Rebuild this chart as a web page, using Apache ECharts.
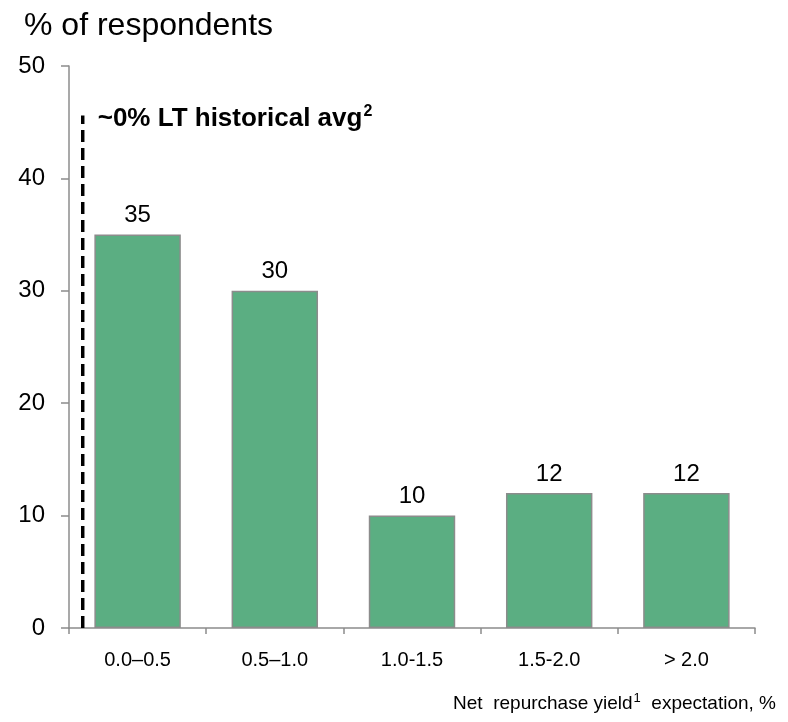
<!DOCTYPE html>
<html>
<head>
<meta charset="utf-8">
<script src="https://cdn.jsdelivr.net/npm/echarts@6/dist/echarts.min.js"></script>
<style>
  html, body { margin: 0; padding: 0; background: #fff; }
  #chart { width: 788px; height: 722px; }
</style>
</head>
<body>
<div id="chart"></div>
<script>
// Share of respondents by expected net repurchase yield bucket
const categories = ['0.0\u20130.5', '0.5\u20131.0', '1.0-1.5', '1.5-2.0', '> 2.0'];
const respondents = [35, 30, 10, 12, 12];
const yTicks = { min: 0, max: 50, interval: 10 };

// Long-term historical average reference line (~0%), drawn on a hidden value axis
const refLineX = [0.1, 0.1];
const refLineY = [0, 45.6];

const FONT = 'Liberation Sans, Arial, sans-serif';
const AXIS_GREY = '#8c8c8c';

const chart = echarts.init(document.getElementById('chart'), null, { renderer: 'canvas' });

chart.setOption({
  animation: false,
  textStyle: { fontFamily: FONT, color: '#000' },
  title: {
    text: '% of respondents',
    left: 19, top: 5,
    textStyle: { fontFamily: FONT, fontSize: 32, fontWeight: 'normal', color: '#000' }
  },
  grid: { left: 69, right: 33, top: 66, bottom: 94 },
  xAxis: [
    {
      type: 'category',
      data: categories,
      boundaryGap: true,
      axisLine: { lineStyle: { color: AXIS_GREY, width: 1.5 } },
      axisTick: { show: true, length: 6, alignWithLabel: false, lineStyle: { color: AXIS_GREY, width: 1.5 } },
      axisLabel: { fontSize: 20, color: '#000', margin: 22, fontFamily: FONT }
    },
    {
      type: 'value', min: 0, max: 5, show: false
    }
  ],
  yAxis: {
    type: 'value',
    min: yTicks.min, max: yTicks.max, interval: yTicks.interval,
    axisLine: { show: true, lineStyle: { color: AXIS_GREY, width: 1.5 } },
    axisTick: { show: true, length: 8, lineStyle: { color: AXIS_GREY, width: 1.5 } },
    axisLabel: { fontSize: 24, color: '#000', margin: 24, fontFamily: FONT },
    splitLine: { show: false }
  },
  series: [
    {
      type: 'bar',
      data: respondents,
      barWidth: '63%',
      itemStyle: { color: '#5bae82', borderColor: '#8c8c8c', borderWidth: 1.5 },
      label: {
        show: true, position: 'top', distance: 7,
        fontSize: 24, color: '#000', fontFamily: FONT
      }
    },
    {
      type: 'line',
      xAxisIndex: 1,
      data: refLineX.map((x, i) => [x, refLineY[i]]),
      symbol: 'none',
      lineStyle: { color: '#000', width: 3.5, type: [12, 6] },
      label: { show: false },
      endLabel: {
        show: true,
        offset: [7, 3],
        formatter: '{b|~0% LT historical avg}{s|2}',
        rich: {
          b: { fontSize: 26, fontWeight: 'bold', color: '#000', fontFamily: FONT, lineHeight: 30 },
          s: { fontSize: 16, fontWeight: 'bold', color: '#000', fontFamily: FONT, verticalAlign: 'top', lineHeight: 30, padding: [0, 0, 10, 1] }
        }
      },
      z: 5
    }
  ],
  graphic: [
    {
      type: 'text',
      right: 12, top: 692,
      style: {
        text: '{t|Net  repurchase yield}{s|1}{t|  expectation, %}',
        rich: {
          t: { fontSize: 19, fill: '#000', fontFamily: FONT, lineHeight: 24 },
          s: { fontSize: 13, fill: '#000', fontFamily: FONT, verticalAlign: 'top', lineHeight: 24, padding: [0, 0, 10, 1] }
        }
      }
    }
  ]
});
</script>
</body>
</html>
